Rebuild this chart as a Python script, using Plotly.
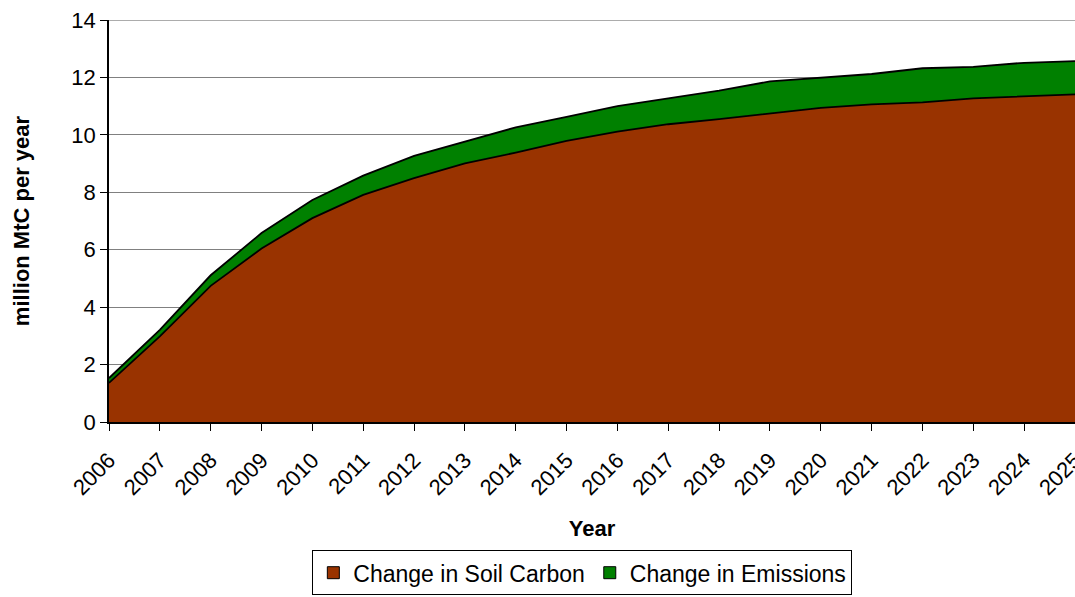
import plotly.graph_objects as go

years = list(range(2006, 2026))
soil_carbon = [1.36, 2.98, 4.74, 6.04, 7.10, 7.91, 8.49, 9.01, 9.38, 9.79,
               10.11, 10.37, 10.55, 10.75, 10.94, 11.06, 11.13, 11.27, 11.35, 11.41]
emissions = [0.17, 0.23, 0.37, 0.54, 0.63, 0.67, 0.78, 0.75, 0.88, 0.84,
             0.89, 0.90, 0.99, 1.11, 1.05, 1.06, 1.19, 1.10, 1.16, 1.16]
y_ticks = [0, 2, 4, 6, 8, 10, 12, 14]
series_names = ["Change in Soil Carbon", "Change in Emissions"]
series_colors = ["#993300", "#008000"]

FONT = "Arial, Liberation Sans, sans-serif"

fig = go.Figure()
for name, vals, col in zip(series_names, [soil_carbon, emissions], series_colors):
    fig.add_trace(go.Scatter(
        x=years, y=vals, name=name,
        stackgroup="one", mode="lines",
        line=dict(color="black", width=1.8),
        fillcolor=col, showlegend=False,
    ))
# legend-only square swatches
for name, col in zip(series_names, series_colors):
    fig.add_trace(go.Bar(
        x=[None], y=[None], name=name,
        marker=dict(color=col, line=dict(color="black", width=1)),
        showlegend=True,
    ))

fig.update_layout(
    width=1075, height=597,
    margin=dict(l=109, r=0, t=20, b=175, autoexpand=False),
    paper_bgcolor="white", plot_bgcolor="white",
    font=dict(family=FONT, size=22, color="black"),
    showlegend=True,
    legend=dict(
        orientation="h", x=0.49, xanchor="center", y=-0.319, yanchor="top",
        bordercolor="black", borderwidth=1, bgcolor="white",
        font=dict(family=FONT, size=23, color="black"),
        traceorder="normal", itemwidth=30,
    ),
    shapes=[dict(type="line", xref="paper", yref="y", x0=0, x1=1, y0=14, y1=14,
                 line=dict(color="#909090", width=1.5))],
)
fig.update_xaxes(
    range=[2006, 2025], tickvals=years, ticktext=[str(y) for y in years],
    tickangle=-45, ticks="outside", ticklen=7, tickcolor="black",
    ticklabeloverflow="allow", automargin=False, ticklabelstandoff=8,
    showline=True, linecolor="black", linewidth=1.5, showgrid=False,
    zeroline=False,
    tickfont=dict(family=FONT, size=22, color="black"),
    title=dict(text="<b>Year</b>", font=dict(family=FONT, size=22, color="black"), standoff=22),
)
fig.update_yaxes(
    range=[0, 14], tickvals=y_ticks, ticks="outside", ticklen=7, tickcolor="black",
    showline=True, linecolor="black", linewidth=1.5, automargin=False,
    showgrid=True, gridcolor="#808080", gridwidth=1, zeroline=False,
    tickfont=dict(family=FONT, size=22, color="black"),
    title=dict(text="<b>million MtC per year</b>", font=dict(family=FONT, size=22, color="black"), standoff=36),
)

fig.write_html("out.html")
